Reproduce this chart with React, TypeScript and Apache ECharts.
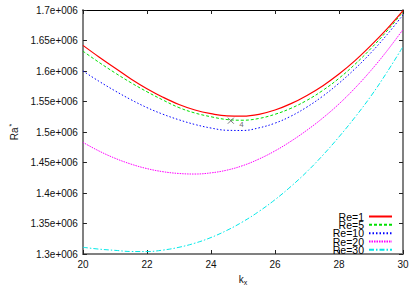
import React, { useEffect, useRef } from "react";
import * as echarts from "echarts";

const kx = [20, 20.5, 21, 21.5, 22, 22.5, 23, 23.5, 24, 24.5, 25, 25.5, 26, 26.5, 27, 27.5, 28, 28.5, 29, 29.5, 30];
const re1 = [1642000, 1623000, 1605000, 1587000, 1571000, 1557000, 1545000, 1536000, 1530000, 1526300, 1526000, 1529000, 1536000, 1546500, 1560000, 1576000, 1595000, 1617000, 1642000, 1669000, 1699000];
const re5 = [1632500, 1614200, 1597000, 1580800, 1566000, 1552400, 1540000, 1531100, 1525000, 1520400, 1519300, 1522200, 1529000, 1538900, 1552000, 1568400, 1588000, 1611000, 1637000, 1665600, 1697000];
const re10 = [1600000, 1583200, 1567500, 1553000, 1540000, 1529100, 1520000, 1512300, 1506500, 1502800, 1502500, 1506800, 1514500, 1526000, 1541000, 1559000, 1580000, 1603600, 1630000, 1659500, 1692000];
const re20 = [1483000, 1468900, 1457000, 1447400, 1440000, 1434900, 1432000, 1431100, 1433000, 1437500, 1445000, 1455700, 1469000, 1484900, 1503000, 1523200, 1546000, 1572000, 1601000, 1633000, 1668000];
const re30 = [1311000, 1308000, 1306000, 1304100, 1304000, 1306400, 1311000, 1317800, 1327000, 1338800, 1353000, 1369800, 1389000, 1410800, 1435000, 1462200, 1492000, 1524200, 1559000, 1598000, 1640000];
const seriesNames = ["Re=1", "Re=5", "Re=10", "Re=20", "Re=30"];
const markerPoint = [24.62, 1518500];
const markerLabel = "4";
const xTicks = { min: 20, max: 30, interval: 2 };
const yTicks = { min: 1300000, max: 1700000, interval: 50000 };

const FONT = "Liberation Sans, Arial, sans-serif";

export default function App() {
  const ref = useRef<HTMLDivElement>(null);
  useEffect(() => {
    if (!ref.current) return;
    const chart = echarts.init(ref.current, undefined, { renderer: "svg" });
    const values = [re1, re5, re10, re20, re30];
    const styles = [
      { color: "#ff0000", width: 1.2, type: "solid" as any },
      { color: "#00e000", width: 1, type: [3, 2] as any },
      { color: "#0000ff", width: 1, type: [1.5, 2] as any },
      { color: "#ff00ff", width: 1, type: [1.5, 1] as any },
      { color: "#00e8e8", width: 1, type: [5, 2, 1.5, 2] as any },
    ];
    const series: any[] = seriesNames.map((name, i) => ({
      type: "line",
      name,
      data: kx.map((k, j) => [k, values[i][j]]),
      smooth: 0.4,
      symbol: "none",
      lineStyle: styles[i],
      itemStyle: { color: styles[i].color },
      z: 10 - i,
    }));
    series.push({
      type: "scatter",
      name: "marker",
      data: [markerPoint],
      symbol: "path://M0,0L10,10M10,0L0,10",
      symbolSize: 6,
      itemStyle: { color: "none", borderColor: "#555", borderWidth: 1 },
      label: {
        show: true,
        formatter: markerLabel,
        position: "right",
        offset: [-2, 4],
        fontSize: 8,
        fontFamily: FONT,
        color: "#444",
      },
      z: 20,
    });
    const legendTops = [211, 219.3, 227.7, 236, 244.3];
    const legends = seriesNames.map((name, i) => ({
      data: [name],
      right: 22,
      top: legendTops[i],
      orient: "vertical",
      align: "right",
      padding: 0,
      itemWidth: 23,
      itemHeight: 10,
      selectedMode: false,
      itemStyle: { opacity: 0 },
      textStyle: { fontSize: 10.5, fontFamily: FONT, color: "#000", lineHeight: 10 },
    }));
    const tickStyle = { inside: true, length: 4, lineStyle: { color: "#222", width: 1 } };
    chart.setOption({
      animation: false,
      backgroundColor: "#fff",
      grid: { left: 78, right: 12, top: 10, bottom: 35, containLabel: false },
      legend: legends,
      xAxis: [
        {
          type: "value",
          ...xTicks,
          position: "bottom",
          axisLine: { show: true, onZero: false, lineStyle: { color: "#808080", width: 2 } },
          axisTick: tickStyle,
          splitLine: { show: false },
          axisLabel: { fontSize: 10, fontFamily: FONT, color: "#111", margin: 5 },
          name: "k{sub|x}",
          nameLocation: "middle",
          nameGap: 19,
          nameTextStyle: {
            fontSize: 10,
            fontFamily: FONT,
            color: "#111",
            rich: { sub: { fontSize: 7, verticalAlign: "bottom", padding: [6, 0, 0, 0], fontFamily: FONT, color: "#111" } },
          },
        },
        {
          type: "value",
          ...xTicks,
          position: "top",
          axisLine: { show: true, onZero: false, lineStyle: { color: "#000", width: 1 } },
          axisTick: tickStyle,
          splitLine: { show: false },
          axisLabel: { show: false },
        },
      ],
      yAxis: [
        {
          type: "value",
          ...yTicks,
          position: "left",
          axisLine: { show: true, onZero: false, lineStyle: { color: "#808080", width: 2 } },
          axisTick: tickStyle,
          splitLine: { show: false },
          axisLabel: {
            fontSize: 10,
            fontFamily: FONT,
            color: "#111",
            margin: 5,
            formatter: (v: number) => parseFloat((v / 1e6).toFixed(2)) + "e+006",
          },
          name: "Ra{sup|*}",
          nameLocation: "middle",
          nameRotate: 90,
          nameGap: 52,
          nameTextStyle: {
            fontSize: 10,
            fontFamily: FONT,
            color: "#111",
            rich: { sup: { fontSize: 7, verticalAlign: "top", padding: [0, 0, 6, 1], fontFamily: FONT, color: "#111" } },
          },
        },
        {
          type: "value",
          ...yTicks,
          position: "right",
          axisLine: { show: true, onZero: false, lineStyle: { color: "#808080", width: 2 } },
          axisTick: tickStyle,
          splitLine: { show: false },
          axisLabel: { show: false },
        },
      ],
      series,
    });
    return () => chart.dispose();
  }, []);
  return <div ref={ref} style={{ position: "fixed", left: 0, top: 0, width: 415, height: 291 }} />;
}
